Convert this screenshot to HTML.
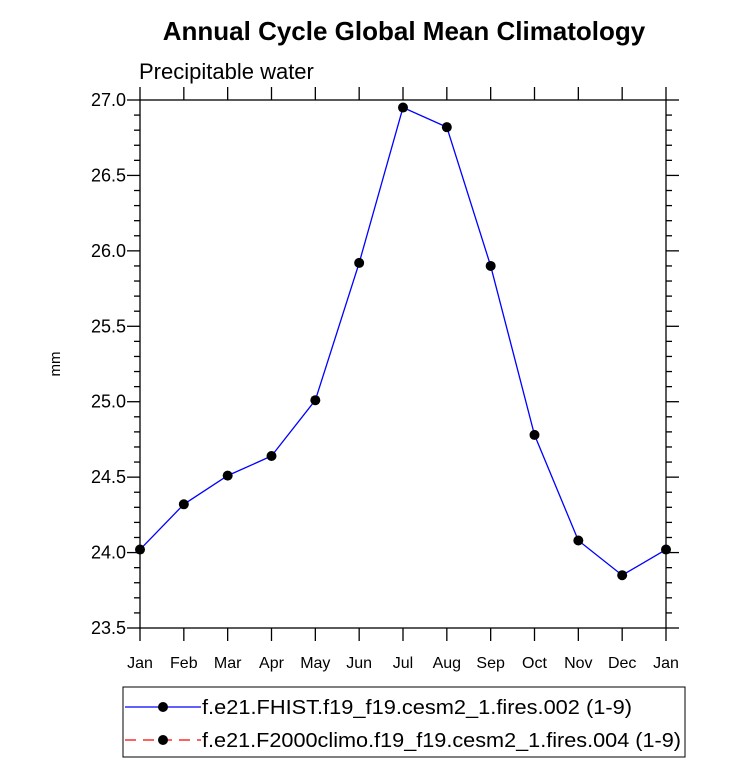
<!DOCTYPE html>
<html><head><meta charset="utf-8"><style>
body{margin:0;background:#fff}
svg{font-family:"Liberation Sans",sans-serif}
</style></head><body>
<svg width="732" height="764">
<text x="404" y="40" text-anchor="middle" font-size="26" font-weight="bold">Annual Cycle Global Mean Climatology</text>
<text x="139" y="79" font-size="22">Precipitable water</text>
<text transform="translate(60,364) rotate(-90)" text-anchor="middle" font-size="15">mm</text>
<g id="axes" stroke="#000" stroke-width="1.3" fill="none"></g>
<g id="labels" font-size="18" fill="#000"></g>
<polyline id="line" fill="none" stroke="#0000ff" stroke-width="1.3"/>
<g id="marks"></g>
<rect x="123" y="687" width="562" height="70" fill="none" stroke="#000" stroke-width="1"/>
<g>
<line x1="125" y1="707" x2="201" y2="707" stroke="#0000ff" stroke-width="1.3"/>
<circle cx="163" cy="707" r="5" fill="#000"/>
<text x="202" y="714" font-size="20.5" textLength="430" lengthAdjust="spacingAndGlyphs">f.e21.FHIST.f19_f19.cesm2_1.fires.002 (1-9)</text>
</g>
<g>
<line x1="125" y1="740" x2="201" y2="740" stroke="#ff0000" stroke-width="1.3" stroke-dasharray="11,7"/>
<circle cx="163" cy="740" r="5" fill="#000"/>
<text x="202" y="747" font-size="20.5" textLength="479" lengthAdjust="spacingAndGlyphs">f.e21.F2000climo.f19_f19.cesm2_1.fires.004 (1-9)</text>
</g>
</svg>
<script>
const months=["Jan","Feb","Mar","Apr","May","Jun","Jul","Aug","Sep","Oct","Nov","Dec","Jan"];
const values=[24.02,24.32,24.51,24.64,25.01,25.92,26.95,26.82,25.90,24.78,24.08,23.85,24.02];
const yTicks=["23.5","24.0","24.5","25.0","25.5","26.0","26.5","27.0"];
const X0=140,X1=666,Y0=628,Y1=100,ymin=23.5,ymax=27.0;
const xs=i=>X0+(X1-X0)*i/12;
const ys=v=>Y0-(v-ymin)/(ymax-ymin)*(Y0-Y1);
const NS="http://www.w3.org/2000/svg";
const ax=document.getElementById('axes'),lb=document.getElementById('labels'),mk=document.getElementById('marks');
function ln(x1,y1,x2,y2){const l=document.createElementNS(NS,'line');l.setAttribute('x1',x1);l.setAttribute('y1',y1);l.setAttribute('x2',x2);l.setAttribute('y2',y2);ax.appendChild(l);return l;}
const fr=document.createElementNS(NS,'rect');
fr.setAttribute('x',X0);fr.setAttribute('y',Y1);fr.setAttribute('width',X1-X0);fr.setAttribute('height',Y0-Y1);


ax.appendChild(fr);
for(let v=ymin;v<=ymax+1e-6;v+=0.1){
 const y=ys(v);const major=Math.abs(v*2-Math.round(v*2))<1e-6;const L=major?13:6;
 ln(X0-L,y,X0,y);ln(X1,y,X1+L,y);
}
yTicks.forEach(t=>{const e=document.createElementNS(NS,'text');e.setAttribute('x',X0-14);e.setAttribute('y',ys(+t)+6);e.setAttribute('text-anchor','end');e.textContent=t;


lb.appendChild(e);});
months.forEach((m,i)=>{const x=xs(i);ln(x,Y0,x,Y0+13);ln(x,Y1-13,x,Y1);
const e=document.createElementNS(NS,'text');e.setAttribute('x',x);e.setAttribute('y',Y0+40);e.setAttribute('text-anchor','middle');e.setAttribute('font-size','16');e.textContent=m;


lb.appendChild(e);});
document.getElementById('line').setAttribute('points',values.map((v,i)=>xs(i)+','+ys(v)).join(' '));
values.forEach((v,i)=>{const c=document.createElementNS(NS,'circle');c.setAttribute('cx',xs(i));c.setAttribute('cy',ys(v));c.setAttribute('r',5);c.setAttribute('fill','#000');


mk.appendChild(c);});
</script>
</body></html>
